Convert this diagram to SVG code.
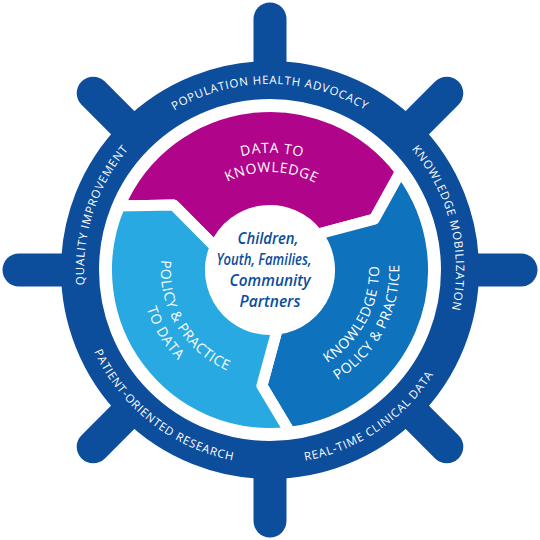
<svg xmlns="http://www.w3.org/2000/svg" xmlns:xlink="http://www.w3.org/1999/xlink" width="540" height="540" viewBox="0 0 540 540">
<style>
.ring-text{font-family:"Open Sans","Liberation Sans",sans-serif;font-size:11.5px;letter-spacing:0.8px;fill:#ffffff}
.seg-text{font-family:"Open Sans","Liberation Sans",sans-serif;font-size:14px;letter-spacing:0.6px;fill:#ffffff}
.seg{stroke:#ffffff;stroke-width:11;stroke-linejoin:round}
.spoke{stroke:#0c4d9c;stroke-width:33;stroke-linecap:round;fill:none}
.center-text{font-family:"Open Sans","Liberation Sans",sans-serif;font-size:17px;font-weight:600;font-style:italic;fill:#0c4d9c;text-anchor:middle}
</style>
<defs>
<path id="p-pha" d="M108.9,177 A186,186 0 0 1 431.1,177"/>
<path id="p-km" d="M321.3,91.2 A186,186 0 0 1 399.2,403.8"/>
<path id="p-qi" d="M131.8,394.5 A186,186 0 0 1 231.3,88.1"/>
<path id="p-rtcd" d="M185,444.4 A194,194 0 0 0 463.5,256.5"/>
<path id="p-por" d="M77.9,243 A194,194 0 0 0 342.7,449.9"/>
<path id="p-dt" d="M155.1,247.7 A117,117 0 0 1 385.6,251.7"/>
<path id="p-kn" d="M173.8,251.3 A98,98 0 0 1 366.8,254.7"/>
<path id="p-kt" d="M236.3,373.7 A109,109 0 0 0 337.1,184.1"/>
<path id="p-pp2" d="M230.1,392.7 A129,129 0 0 0 349.4,168.3"/>
<path id="p-pp1" d="M198.5,187.7 A109,109 0 0 0 309.1,371.8"/>
<path id="p-td" d="M185.4,172.6 A129,129 0 0 0 316.2,390.4"/>
</defs>
<g id="wheel">
<line class="spoke" x1="270" y1="80" x2="270" y2="19"/>
<line class="spoke" x1="404.4" y1="135.6" x2="446.8" y2="93.2"/>
<line class="spoke" x1="460" y1="270" x2="521" y2="270"/>
<line class="spoke" x1="404.4" y1="404.4" x2="446.8" y2="446.8"/>
<line class="spoke" x1="270" y1="460" x2="270" y2="521"/>
<line class="spoke" x1="135.6" y1="404.4" x2="93.2" y2="446.8"/>
<line class="spoke" x1="80" y1="270" x2="19" y2="270"/>
<line class="spoke" x1="135.6" y1="135.6" x2="93.2" y2="93.2"/>
<circle cx="270" cy="270" r="190" fill="none" stroke="#0c4d9c" stroke-width="38"/>
<text class="ring-text"><textPath xlink:href="#p-pha" href="#p-pha" startOffset="50%" text-anchor="middle">POPULATION HEALTH ADVOCACY</textPath></text>
<text class="ring-text"><textPath xlink:href="#p-km" href="#p-km" startOffset="50%" text-anchor="middle">KNOWLEDGE MOBILIZATION</textPath></text>
<text class="ring-text"><textPath xlink:href="#p-qi" href="#p-qi" startOffset="50%" text-anchor="middle">QUALITY IMPROVEMENT</textPath></text>
<text class="ring-text"><textPath xlink:href="#p-rtcd" href="#p-rtcd" startOffset="50%" text-anchor="middle">REAL-TIME CLINICAL DATA</textPath></text>
<text class="ring-text"><textPath xlink:href="#p-por" href="#p-por" startOffset="50%" text-anchor="middle">PATIENT-ORIENTED RESEARCH</textPath></text>
</g>
<g id="data-to-knowledge">
<path class="seg" fill="#b0058a" d="M119.5,206.1 A163.5,163.5 0 0 1 400.6,171.6 L374.3,219.1 L317.5,234.2 A59.5,59.5 0 0 0 215.2,246.8 L173.8,205.1 Z"/>
<text class="seg-text"><textPath xlink:href="#p-dt" href="#p-dt" startOffset="50%" text-anchor="middle">DATA TO</textPath></text>
<text class="seg-text"><textPath xlink:href="#p-kn" href="#p-kn" startOffset="50%" text-anchor="middle">KNOWLEDGE</textPath></text>
</g>
<g id="knowledge-to-policy">
<path class="seg" fill="#0e72bd" d="M400.6,171.6 A163.5,163.5 0 0 1 289.9,432.3 L261.9,385.7 L277.3,329.1 A59.5,59.5 0 0 0 317.5,234.2 L374.3,219.1 Z"/>
<text class="seg-text"><textPath xlink:href="#p-kt" href="#p-kt" startOffset="50%" text-anchor="middle">KNOWLEDGE TO</textPath></text>
<text class="seg-text"><textPath xlink:href="#p-pp2" href="#p-pp2" startOffset="50%" text-anchor="middle">POLICY &amp; PRACTICE</textPath></text>
</g>
<g id="policy-to-data">
<path class="seg" fill="#29a9e1" d="M289.9,432.3 A163.5,163.5 0 0 1 119.5,206.1 L173.8,205.1 L215.2,246.8 A59.5,59.5 0 0 0 277.3,329.1 L261.9,385.7 Z"/>
<text class="seg-text"><textPath xlink:href="#p-pp1" href="#p-pp1" startOffset="50%" text-anchor="middle">POLICY &amp; PRACTICE</textPath></text>
<text class="seg-text"><textPath xlink:href="#p-td" href="#p-td" startOffset="50%" text-anchor="middle">TO DATA</textPath></text>
</g>
<g id="center">
<text class="center-text" x="268" y="244" textLength="61" lengthAdjust="spacingAndGlyphs">Children,</text>
<text class="center-text" x="264" y="265" textLength="95" lengthAdjust="spacingAndGlyphs">Youth, Families,</text>
<text class="center-text" x="270" y="286" textLength="81" lengthAdjust="spacingAndGlyphs">Community</text>
<text class="center-text" x="270" y="307" textLength="61" lengthAdjust="spacingAndGlyphs">Partners</text>
</g>
<g id="connectors"></g>
</svg>
